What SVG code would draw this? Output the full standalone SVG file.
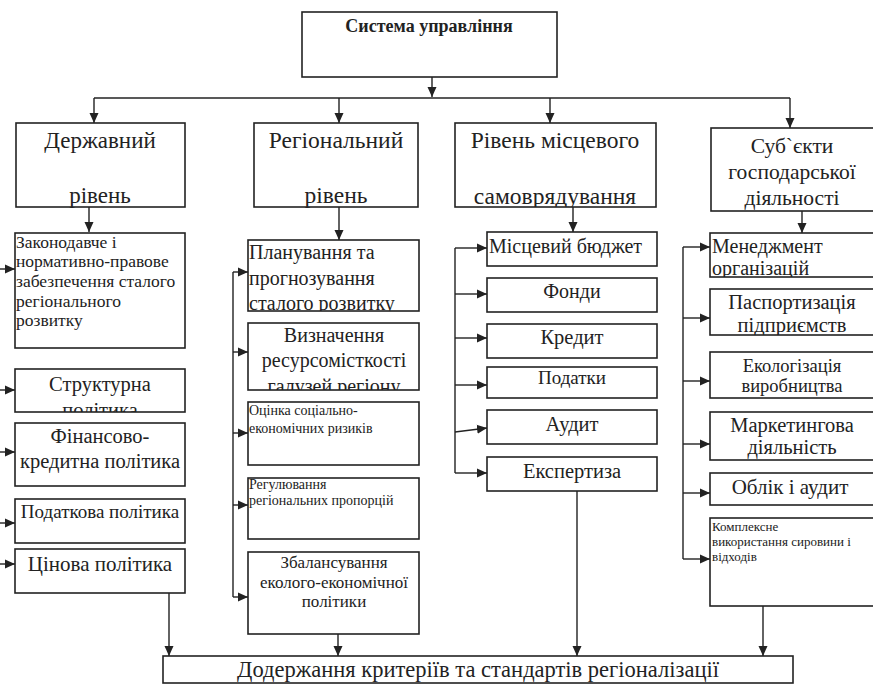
<svg xmlns="http://www.w3.org/2000/svg" width="873" height="684" viewBox="0 0 873 684" font-family="'Liberation Serif', 'Times New Roman', 'DejaVu Serif', serif">
<style>
.b{fill:#fff;stroke:#222;stroke-width:1.6}
.c{fill:none;stroke:#222;stroke-width:1.4}
text{fill:#222}
.m{text-anchor:middle}
</style>
<defs>
<marker id="ah" markerUnits="userSpaceOnUse" markerWidth="10" markerHeight="10" refX="10" refY="5" orient="auto">
<path d="M0,0.5 L10,5 L0,9.5 z" fill="#222"/>
</marker>
<clipPath id="k1"><rect x="15" y="369" width="170" height="43"/></clipPath>
<clipPath id="k2"><rect x="248" y="240" width="171" height="71"/></clipPath>
<clipPath id="k3"><rect x="248" y="323" width="171" height="67"/></clipPath>
<clipPath id="k4"><rect x="710" y="233" width="163" height="44"/></clipPath>
<clipPath id="k5"><rect x="710" y="289" width="163" height="46"/></clipPath>
<clipPath id="k6"><rect x="455" y="123" width="201" height="84"/></clipPath>
</defs>
<rect width="873" height="684" fill="#fff"/>

<g id="connectors" class="c">
<path d="M432,77 V97" marker-end="url(#ah)"/>
<path d="M94,98 H790"/>
<path d="M94,98 V123" marker-end="url(#ah)"/>
<path d="M339,98 V123" marker-end="url(#ah)"/>
<path d="M550,98 V123" marker-end="url(#ah)"/>
<path d="M790,98 V128" marker-end="url(#ah)"/>
<path d="M89,207 V232" marker-end="url(#ah)"/>
<path d="M339,207 V240" marker-end="url(#ah)"/>
<path d="M573,207 V232" marker-end="url(#ah)"/>
<path d="M802,211 V233" marker-end="url(#ah)"/>
<path d="M0,269 H15" marker-end="url(#ah)"/>
<path d="M0,390 H15" marker-end="url(#ah)"/>
<path d="M0,452 H15" marker-end="url(#ah)"/>
<path d="M0,523 H15" marker-end="url(#ah)"/>
<path d="M0,564 H15" marker-end="url(#ah)"/>
<path d="M233,272 V597"/>
<path d="M233,272 H248" marker-end="url(#ah)"/>
<path d="M233,352 H248" marker-end="url(#ah)"/>
<path d="M233,433 H248" marker-end="url(#ah)"/>
<path d="M233,505 H248" marker-end="url(#ah)"/>
<path d="M233,597 H248" marker-end="url(#ah)"/>
<path d="M455,248 V473"/>
<path d="M455,248 H487" marker-end="url(#ah)"/>
<path d="M455,294 H487" marker-end="url(#ah)"/>
<path d="M455,338 H487" marker-end="url(#ah)"/>
<path d="M455,385 H487" marker-end="url(#ah)"/>
<path d="M455,432 L487,428" marker-end="url(#ah)"/>
<path d="M455,473 H487" marker-end="url(#ah)"/>
<path d="M683,247 V559"/>
<path d="M683,247 H710" marker-end="url(#ah)"/>
<path d="M683,318 H710" marker-end="url(#ah)"/>
<path d="M683,381 H710" marker-end="url(#ah)"/>
<path d="M683,444 H710" marker-end="url(#ah)"/>
<path d="M683,493 H710" marker-end="url(#ah)"/>
<path d="M683,559 H710" marker-end="url(#ah)"/>
<path d="M169,593 V656" marker-end="url(#ah)"/>
<path d="M338,634 V656" marker-end="url(#ah)"/>
<path d="M577,491 V656" marker-end="url(#ah)"/>
<path d="M763,606 V656" marker-end="url(#ah)"/>
</g>

<g id="system">
<rect class="b" x="302" y="12" width="255" height="65"/>
<text class="m" x="429" y="32" font-size="18" font-weight="bold">Система управління</text>
</g>

<g id="state">
<rect class="b" x="16" y="123" width="169" height="84"/>
<text class="m" x="100" y="148" font-size="23">Державний</text>
<text class="m" x="100" y="203" font-size="23">рівень</text>
</g>
<g id="regional">
<rect class="b" x="254" y="123" width="164" height="84"/>
<text class="m" x="336" y="148" font-size="23.5">Регіональний</text>
<text class="m" x="336" y="203" font-size="23.5">рівень</text>
</g>
<g id="local">
<rect class="b" x="455" y="123" width="201" height="84"/>
<text class="m" x="555" y="148" font-size="23.5">Рівень місцевого</text>
<text class="m" x="555" y="204" font-size="23.5" clip-path="url(#k6)">самоврядування</text>
</g>
<g id="subjects">
<rect class="b" x="711" y="128" width="163" height="83"/>
<text class="m" x="792" y="153" font-size="21.5">Суб`єкти</text>
<text class="m" x="792" y="179" font-size="21.5">господарської</text>
<text class="m" x="792" y="205" font-size="21.5">діяльності</text>
</g>

<g id="law">
<rect class="b" x="15" y="233" width="170" height="115"/>
<text x="16" font-size="17.5"><tspan x="16" y="248">Законодавче і</tspan><tspan x="16" y="267">нормативно-правове</tspan><tspan x="16" y="287">забезпечення сталого</tspan><tspan x="16" y="307">регіонального</tspan><tspan x="16" y="326">розвитку</tspan></text>
</g>
<g id="structural">
<rect class="b" x="15" y="369" width="170" height="43"/>
<g clip-path="url(#k1)"><text class="m" x="100" y="391" font-size="20.5">Структурна</text>
<text class="m" x="100" y="417" font-size="20.5">політика</text></g>
</g>
<g id="finance">
<rect class="b" x="15" y="423" width="170" height="63"/>
<text class="m" x="100" y="443" font-size="20.5">Фінансово-</text>
<text class="m" x="100" y="468" font-size="20.5">кредитна політика</text>
</g>
<g id="tax">
<rect class="b" x="15" y="499" width="170" height="44"/>
<text class="m" x="100" y="518" font-size="19">Податкова політика</text>
</g>
<g id="price">
<rect class="b" x="15" y="549" width="170" height="44"/>
<text class="m" x="100" y="571" font-size="21">Цінова політика</text>
</g>

<g id="planning">
<rect class="b" x="248" y="240" width="171" height="71"/>
<g clip-path="url(#k2)"><text x="249" font-size="20"><tspan x="249" y="259">Планування та</tspan><tspan x="249" y="285">прогнозування</tspan><tspan x="249" y="310">сталого розвитку</tspan></text></g>
</g>
<g id="resource">
<rect class="b" x="248" y="323" width="171" height="67"/>
<g clip-path="url(#k3)"><text class="m" x="334" y="342" font-size="20">Визначення</text>
<text class="m" x="334" y="367" font-size="20">ресурсомісткості</text>
<text class="m" x="334" y="393" font-size="20">галузей регіону</text></g>
</g>
<g id="risk">
<rect class="b" x="248" y="402" width="171" height="63"/>
<text x="249" font-size="14"><tspan x="249" y="415">Оцінка соціально-</tspan><tspan x="249" y="433">економічних ризиків</tspan></text>
</g>
<g id="proportions">
<rect class="b" x="248" y="478" width="171" height="61"/>
<text x="249" font-size="14"><tspan x="249" y="489">Регулювання</tspan><tspan x="249" y="505">регіональних пропорцій</tspan></text>
</g>
<g id="balance">
<rect class="b" x="248" y="552" width="171" height="82"/>
<text class="m" x="334" font-size="17"><tspan x="334" y="568">Збалансування</tspan><tspan x="334" y="588">еколого-економічної</tspan><tspan x="334" y="607">політики</tspan></text>
</g>

<g id="budget">
<rect class="b" x="487" y="232" width="170" height="34"/>
<text x="489" y="253" font-size="20">Місцевий бюджет</text>
</g>
<g id="funds">
<rect class="b" x="487" y="278" width="170" height="34"/>
<text class="m" x="572" y="298" font-size="20">Фонди</text>
</g>
<g id="credit">
<rect class="b" x="487" y="324" width="170" height="34"/>
<text class="m" x="572" y="344" font-size="20.5">Кредит</text>
</g>
<g id="taxes">
<rect class="b" x="487" y="367" width="170" height="31"/>
<text class="m" x="572" y="384" font-size="19">Податки</text>
</g>
<g id="audit">
<rect class="b" x="487" y="410" width="170" height="34"/>
<text class="m" x="572" y="431" font-size="20.5">Аудит</text>
</g>
<g id="expertise">
<rect class="b" x="487" y="457" width="170" height="34"/>
<text class="m" x="572" y="478" font-size="20.5">Експертиза</text>
</g>

<g id="management">
<rect class="b" x="710" y="233" width="164" height="44"/>
<g clip-path="url(#k4)"><text x="712" y="253" font-size="20">Менеджмент</text>
<text x="712" y="275" font-size="20">організацій</text></g>
</g>
<g id="passport">
<rect class="b" x="710" y="289" width="164" height="46"/>
<g clip-path="url(#k5)"><text class="m" x="792" y="309" font-size="20.5">Паспортизація</text>
<text class="m" x="792" y="332" font-size="20.5">підприємств</text></g>
</g>
<g id="ecology">
<rect class="b" x="710" y="352" width="164" height="46"/>
<text class="m" x="792" y="372" font-size="18.5">Екологізація</text>
<text class="m" x="792" y="392" font-size="18.5">виробництва</text>
</g>
<g id="marketing">
<rect class="b" x="710" y="412" width="164" height="48"/>
<text class="m" x="792" y="432" font-size="20.5">Маркетингова</text>
<text class="m" x="792" y="454" font-size="20.5">діяльність</text>
</g>
<g id="accounting">
<rect class="b" x="710" y="473" width="164" height="32"/>
<text class="m" x="790" y="494" font-size="21">Облік і аудит</text>
</g>
<g id="complex">
<rect class="b" x="710" y="518" width="164" height="88"/>
<text x="712" font-size="13"><tspan x="712" y="531">Комплексне</tspan><tspan x="712" y="546">використання сировини і</tspan><tspan x="712" y="561">відходів</tspan></text>
</g>

<g id="criteria">
<rect class="b" x="163" y="656" width="630" height="27"/>
<text class="m" x="478" y="677" font-size="22.5">Додержання критеріїв та стандартів регіоналізації</text>
</g>
</svg>
